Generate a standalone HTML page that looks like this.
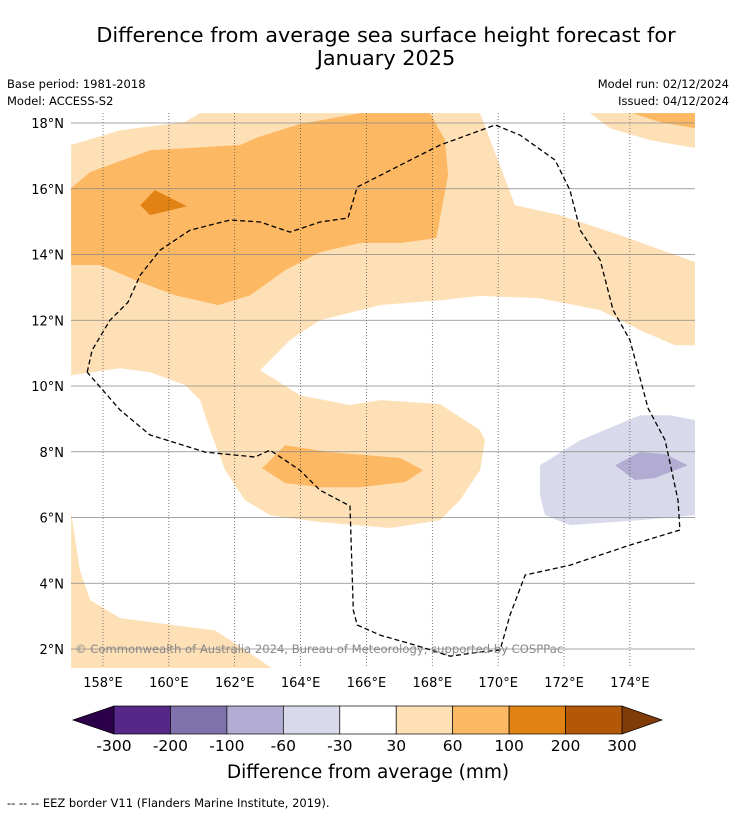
<!DOCTYPE html>
<html><head><meta charset="utf-8"><style>
body{margin:0;background:#fff;font-family:"Liberation Sans","DejaVu Sans",sans-serif;}
svg text{font-family:"DejaVu Sans","Liberation Sans",sans-serif;}
</style></head><body>
<svg id="c" width="736" height="816" viewBox="0 0 736 816" xmlns="http://www.w3.org/2000/svg">
<text x="386" y="42" text-anchor="middle" font-size="20.8">Difference from average sea surface height forecast for</text>
<text x="386" y="65" text-anchor="middle" font-size="20.8">January 2025</text>
<text x="7" y="88" font-size="11.5">Base period: 1981-2018</text>
<text x="7" y="105" font-size="11.5">Model: ACCESS-S2</text>
<text x="729" y="88" font-size="11.5" text-anchor="end">Model run: 02/12/2024</text>
<text x="729" y="105" font-size="11.5" text-anchor="end">Issued: 04/12/2024</text>
<defs><clipPath id="mc"><rect x="71" y="113" width="624" height="555"/></clipPath></defs>
<g id="map" clip-path="url(#mc)"></g>
<g id="axes"></g>
<text x="75" y="653" font-size="11.6" fill="#888">© Commonwealth of Australia 2024, Bureau of Meteorology, supported by COSPPac</text>
<g id="cbar"></g>
<text x="368" y="778" text-anchor="middle" font-size="18.5">Difference from average (mm)</text>
<text x="7" y="807" font-size="11.5">--  --  -- EEZ border V11 (Flanders Marine Institute, 2019).</text>
</svg>
<script>
const lonTicks=[158,160,162,164,166,168,170,172,174];
const latTicks=[2,4,6,8,10,12,14,16,18];
const cbLabels=["-300","-200","-100","-60","-30","30","60","100","200","300"];
const cbColors=["#542788","#8073ac","#b2abd2","#d8daeb","#ffffff","#fee0b6","#fdb863","#e08214","#b35806"];
const cbLow="#2d004b", cbHigh="#7f3b08";
const lightMain=[[157.03,17.33],[158.52,17.78],[160.49,18.03],[160.95,18.30],[169.45,18.30],[169.76,17.48],[170.51,15.50],[171.88,15.20],[173.70,14.59],[175.98,13.77],[175.98,11.24],[175.37,11.24],[174.31,11.70],[173.10,12.31],[171.27,12.67],[169.45,12.74],[168.24,12.61],[166.42,12.46],[164.59,12.00],[163.68,11.40],[162.77,10.48],[163.98,9.72],[165.50,9.42],[166.42,9.57],[168.24,9.45],[169.45,8.66],[169.60,8.35],[169.45,7.44],[168.84,6.53],[168.24,5.92],[166.73,5.68],[164.59,5.86],[163.07,6.07],[162.31,6.53],[161.71,7.44],[161.25,8.66],[160.95,9.57],[160.49,10.03],[159.43,10.42],[158.52,10.54],[157.03,10.33]];
const darkTop=[[157.03,16.02],[157.61,16.51],[159.43,17.17],[162.16,17.33],[162.71,17.57],[163.98,17.97],[165.81,18.30],[167.93,18.30],[168.39,17.48],[168.48,16.41],[168.12,14.50],[167.03,14.35],[165.81,14.35],[164.59,14.07],[163.53,13.52],[162.47,12.76],[161.50,12.46],[160.19,12.76],[159.13,13.16],[157.91,13.68],[157.03,13.68]];
const patch100=[[159.13,15.50],[159.58,15.96],[160.55,15.47],[159.43,15.20]];
const darkLow=[[163.53,8.20],[164.90,7.99],[167.03,7.81],[167.72,7.44],[167.18,7.08],[165.81,6.92],[164.59,6.92],[163.53,7.05],[162.83,7.50]];
const lightTR=[[172.79,18.30],[173.40,17.84],[174.61,17.48],[175.98,17.24],[175.98,18.30]];
const darkTR=[[174.06,18.30],[174.91,18.03],[175.98,17.84],[175.98,18.30]];
const lightBL=[[157.03,6.16],[157.30,4.40],[157.61,3.49],[158.52,2.94],[160.34,2.70],[161.40,2.57],[162.31,1.97],[163.13,1.42],[157.03,1.42]];
const lav1=[[171.27,7.59],[172.49,8.35],[174.31,9.11],[175.22,9.11],[175.98,8.96],[175.98,6.07],[174.31,5.92],[172.18,5.77],[171.42,6.07],[171.27,6.68]];
const lav2=[[173.55,7.59],[174.31,7.99],[175.07,7.93],[175.76,7.59],[174.76,7.20],[174.15,7.14]];
const eez=[[157.52,10.42],[157.67,11.09],[158.21,12.00],[158.76,12.55],[159.13,13.37],[159.73,14.13],[160.64,14.74],[161.86,15.05],[162.77,14.99],[163.68,14.68],[164.59,14.99],[165.44,15.11],[165.72,16.05],[167.03,16.72],[168.24,17.33],[169.91,17.94],[170.67,17.63],[171.73,16.87],[172.18,15.96],[172.49,14.74],[173.10,13.83],[173.49,12.31],[174.00,11.40],[174.55,9.33],[175.07,8.35],[175.46,6.53],[175.52,5.62],[174.00,5.16],[172.18,4.55],[170.82,4.25],[170.36,3.03],[170.06,1.97],[169.45,1.91],[168.54,1.78],[167.48,2.12],[166.42,2.42],[165.72,2.73],[165.60,3.18],[165.50,6.35],[164.59,6.83],[163.98,7.44],[163.07,8.05],[162.62,7.84],[161.10,7.99],[159.43,8.51],[158.52,9.27],[157.52,10.42]];

const NS="http://www.w3.org/2000/svg";
const X=lon=>103+(lon-158)*32.93;
const Y=lat=>123+(18-lat)*32.875;
function mk(tag,attrs,parent){const e=document.createElementNS(NS,tag);for(const k in attrs)e.setAttribute(k,attrs[k]);parent.appendChild(e);return e;}
const map=document.getElementById('map'), axes=document.getElementById('axes'), cb=document.getElementById('cbar');
function poly(pts,fill,name){
  const e=mk('polygon',{points:pts.map(p=>X(p[0]).toFixed(1)+','+Y(p[1]).toFixed(1)).join(' '),fill:fill},map);
  
  
}
poly(lightMain,cbColors[5],'contour-30-60-main');
poly(darkTop,cbColors[6],'contour-60-100-north');
poly(patch100,cbColors[7],'contour-100-200');
poly(darkLow,cbColors[6],'contour-60-100-south');
poly(lightTR,cbColors[5],'contour-30-60-northeast');
poly(darkTR,cbColors[6],'contour-60-100-northeast');
poly(lightBL,cbColors[5],'contour-30-60-southwest');
poly(lav1,cbColors[3],'contour-neg30-neg60');
poly(lav2,cbColors[2],'contour-neg60-neg100');
lonTicks.forEach(l=>{
  const g=mk('line',{x1:X(l),x2:X(l),y1:113,y2:668,stroke:'#444','stroke-width':0.7,'stroke-dasharray':'1,2'},map);
  
  
  const t=mk('text',{x:X(l),y:687,'text-anchor':'middle','font-size':13},axes);t.textContent=l+'°E';
  
  
});
latTicks.forEach(l=>{
  const g=mk('line',{x1:71,x2:695,y1:Y(l),y2:Y(l),stroke:'#888','stroke-width':0.7},map);
  
  
  const t=mk('text',{x:64,y:Y(l)+5,'text-anchor':'end','font-size':13},axes);t.textContent=l+'°N';
  
  
});
const ez=mk('polyline',{points:eez.map(p=>X(p[0]).toFixed(1)+','+Y(p[1]).toFixed(1)).join(' '),fill:'none',stroke:'#000','stroke-width':1.3,'stroke-dasharray':'5,3'},map);


const cx0=114,cx1=622,cy=706,ch=28,bw=(cx1-cx0)/cbColors.length;
const lt=mk('polygon',{points:`73,${cy+ch/2} ${cx0},${cy} ${cx0},${cy+ch}`,fill:cbLow,stroke:'#000','stroke-width':0.7},cb);


const ht=mk('polygon',{points:`662,${cy+ch/2} ${cx1},${cy} ${cx1},${cy+ch}`,fill:cbHigh,stroke:'#000','stroke-width':0.7},cb);


cbColors.forEach((c,i)=>{
  const r=mk('rect',{x:cx0+i*bw,y:cy,width:bw,height:ch,fill:c,stroke:'#000','stroke-width':0.7},cb);
  
  
});
cbLabels.forEach((s,i)=>{
  const t=mk('text',{x:cx0+i*bw,y:751,'text-anchor':'middle','font-size':15.5},cb);t.textContent=s;
  
  
});
</script>
</body></html>
